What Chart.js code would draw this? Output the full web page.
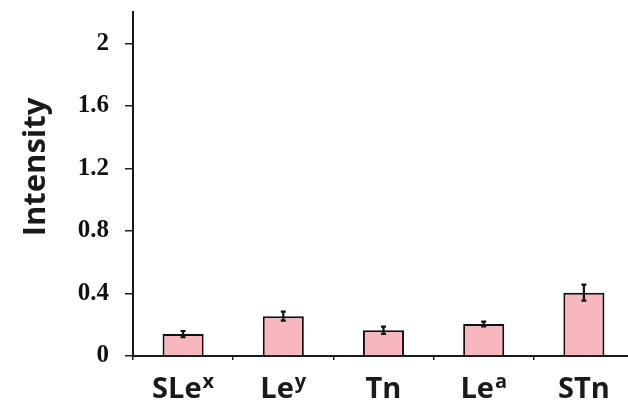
<!DOCTYPE html>
<html>
<head>
<meta charset="utf-8">
<script src="https://cdn.jsdelivr.net/npm/chart.js@4"></script>
<style>
html,body{margin:0;padding:0;background:#fff;overflow:hidden;}
#wrap{width:634px;height:409px;}
</style>
</head>
<body>
<div id="wrap"><canvas id="c" width="634" height="409"></canvas></div>
<script>
const categories = ["SLe", "Le", "Tn", "Le", "STn"];
const superscripts = ["x", "y", "", "a", ""];
const intensity = [0.14, 0.255, 0.165, 0.205, 0.405];
const errors = [0.02, 0.029, 0.023, 0.015, 0.051];
const yTicks = [0, 0.4, 0.8, 1.2, 1.6, 2];
const yTitle = "Intensity";

const errorBars = {
  id: 'errorBars',
  afterDatasetsDraw(chart) {
    const ctx = chart.ctx, y = chart.scales.y;
    const meta = chart.getDatasetMeta(0);
    ctx.save();
    ctx.strokeStyle = '#111';
    ctx.lineWidth = 2.2;
    meta.data.forEach((bar, i) => {
      const v = intensity[i], e = errors[i];
      const yt = y.getPixelForValue(v + e), yb = y.getPixelForValue(v - e);
      ctx.beginPath();
      ctx.moveTo(bar.x, yt); ctx.lineTo(bar.x, yb);
      ctx.moveTo(bar.x - 2.5, yt); ctx.lineTo(bar.x + 2.5, yt);
      ctx.moveTo(bar.x - 2.5, yb); ctx.lineTo(bar.x + 2.5, yb);
      ctx.stroke();
    });
    ctx.restore();
  },
  afterDraw(chart) {
    const ctx = chart.ctx, x = chart.scales.x;
    ctx.save();
    ctx.fillStyle = '#1a1a1a';
    ctx.textBaseline = 'alphabetic';
    const baseFont = 'bold 29px "Open Sans"', supFont = 'bold 20px "Open Sans"';
    categories.forEach((c, i) => {
      ctx.font = baseFont;
      const wb = ctx.measureText(c).width;
      ctx.font = supFont;
      const ws = superscripts[i] ? ctx.measureText(superscripts[i]).width + 1 : 0;
      const cx = x.getPixelForValue(i);
      const left = cx - (wb + ws) / 2;
      ctx.font = baseFont; ctx.textAlign = 'left';
      ctx.fillText(c, left, 398);
      if (superscripts[i]) {
        ctx.font = supFont;
        ctx.fillText(superscripts[i], left + wb + 1, 388);
      }
    });
    ctx.translate(45, 167);
    ctx.rotate(-Math.PI / 2);
    ctx.font = 'bold 31px "Open Sans"';
    ctx.textAlign = 'center';
    ctx.fillText(yTitle, 0, 0);
    ctx.restore();
  }
};

new Chart(document.getElementById('c'), {
  type: 'bar',
  data: {
    labels: categories.map((c, i) => c + superscripts[i]),
    datasets: [{
      data: intensity,
      backgroundColor: '#F7B7BF',
      borderColor: '#111',
      borderWidth: 2,
      borderSkipped: 'bottom',
      categoryPercentage: 1,
      barPercentage: 0.41
    }]
  },
  options: {
    responsive: false,
    animation: false,
    devicePixelRatio: 1,
    layout: { padding: { top: 12, left: 0, right: 0, bottom: 0 } },
    plugins: { legend: { display: false }, tooltip: { enabled: false } },
    scales: {
      x: {
        offset: true,
        grid: { offset: true, drawOnChartArea: false, drawTicks: true, tickLength: 4, color: '#222', lineWidth: 1.5 },
        border: { color: '#1a1a1a', width: 2 },
        ticks: { display: false },
        afterFit(s) { s.height = 53; }
      },
      y: {
        min: 0,
        max: 2.2,
        afterBuildTicks(s) { s.ticks = yTicks.map(v => ({ value: v })); },
        grid: { drawOnChartArea: false, drawTicks: true, tickLength: 8, color: '#222', lineWidth: 1.5 },
        border: { color: '#1a1a1a', width: 2 },
        ticks: {
          font: { family: '"Liberation Serif"', weight: 'bold', size: 25 },
          color: '#111',
          padding: 16,
          callback: (v) => String(v)
        },
        afterFit(s) { s.width = 133; s.paddingTop = 0; s.paddingBottom = 0; }
      }
    }
  },
  plugins: [errorBars]
});
</script>
</body>
</html>
